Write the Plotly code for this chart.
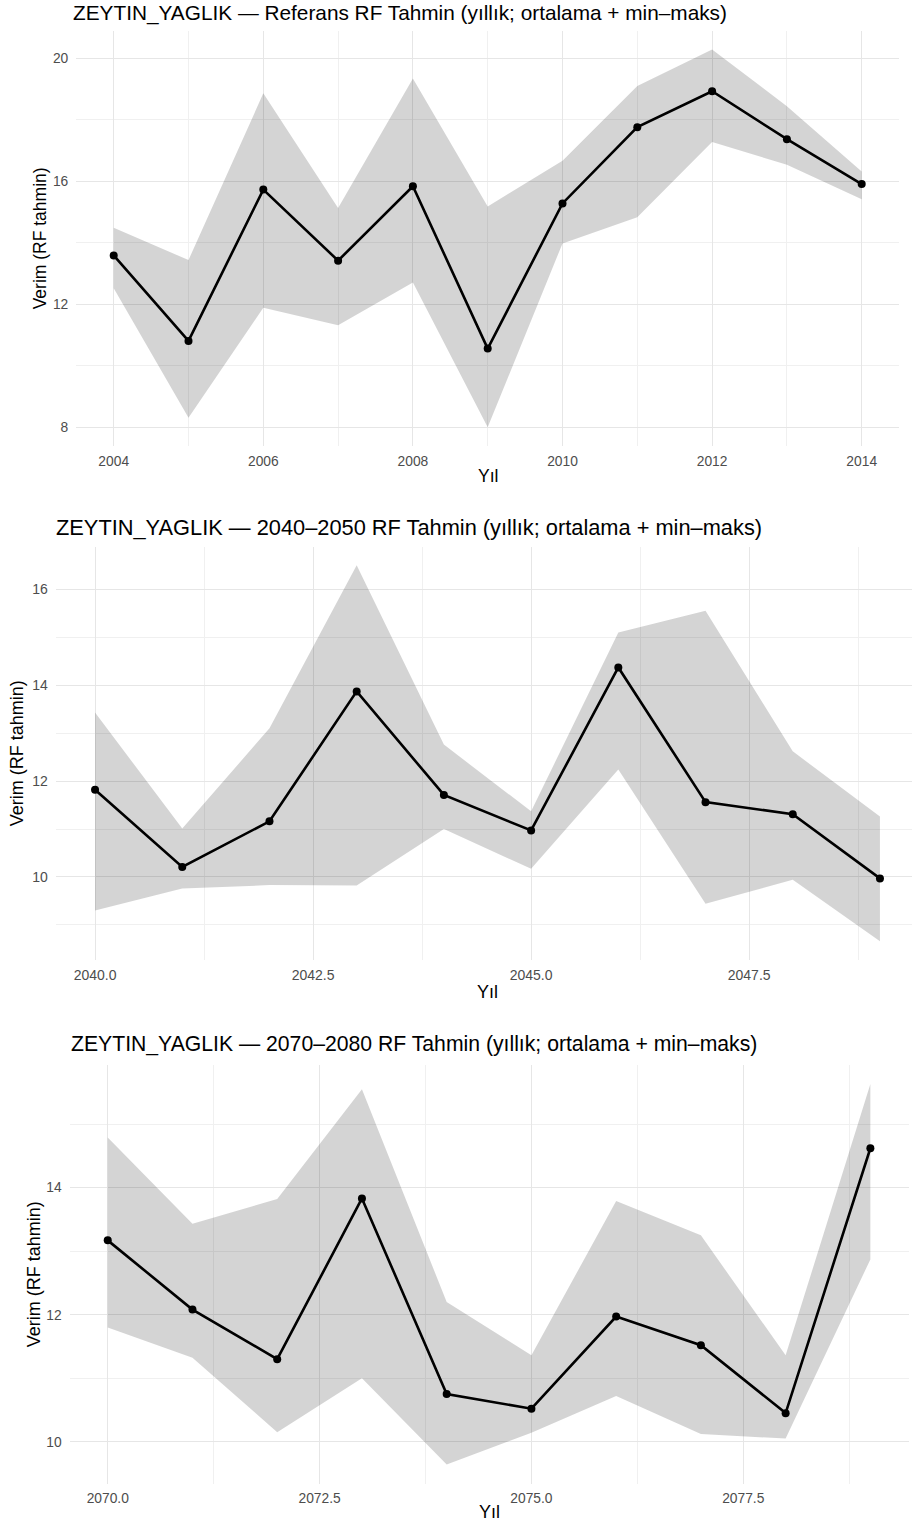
import plotly.graph_objects as go

# ---------------- data ----------------
years_ref = [2004, 2005, 2006, 2007, 2008, 2009, 2010, 2011, 2012, 2013, 2014]
mean_ref = [13.59, 10.81, 15.73, 13.42, 15.84, 10.56, 15.28, 17.76, 18.93, 17.37, 15.91]
max_ref = [14.49, 13.44, 18.86, 15.13, 19.34, 15.18, 16.67, 19.10, 20.29, 18.44, 16.32]
min_ref = [12.52, 8.31, 11.89, 11.32, 12.71, 8.00, 13.98, 14.83, 17.28, 16.54, 15.42]

years_40 = [2040, 2041, 2042, 2043, 2044, 2045, 2046, 2047, 2048, 2049]
mean_40 = [11.82, 10.21, 11.16, 13.87, 11.71, 10.97, 14.37, 11.56, 11.31, 9.97]
max_40 = [13.43, 11.01, 13.10, 16.50, 12.76, 11.37, 15.10, 15.55, 12.62, 11.26]
min_40 = [9.30, 9.76, 9.83, 9.82, 11.00, 10.17, 12.24, 9.44, 9.94, 8.66]

years_70 = [2070, 2071, 2072, 2073, 2074, 2075, 2076, 2077, 2078, 2079]
mean_70 = [13.17, 12.08, 11.30, 13.83, 10.75, 10.52, 11.97, 11.52, 10.45, 14.62]
max_70 = [14.79, 13.43, 13.82, 15.55, 12.20, 11.36, 13.79, 13.25, 11.36, 15.63]
min_70 = [11.80, 11.32, 10.15, 11.00, 9.64, 10.14, 10.72, 10.12, 10.05, 12.87]

titles = [
    "ZEYTIN_YAGLIK — Referans RF Tahmin (yıllık; ortalama + min–maks)",
    "ZEYTIN_YAGLIK — 2040–2050 RF Tahmin (yıllık; ortalama + min–maks)",
    "ZEYTIN_YAGLIK — 2070–2080 RF Tahmin (yıllık; ortalama + min–maks)",
]
x_title = "Yıl"
y_title = "Verim (RF tahmin)"

# ---------------- layout constants (pixels) ----------------
W, H = 912, 1526
FONT = "Liberation Sans, Arial, sans-serif"
BAND = "rgba(0,0,0,0.17)"
GRID = "#e6e6e6"
MINOR = "#f0f0f0"

panels = [
    dict(years=years_ref, mean=mean_ref, lo=min_ref, hi=max_ref,
         px=(76.3, 899.1), py=(30.5, 446.2),
         xt=dict(tick0=2004, dtick=2, minor=1, fmt="d"),
         yt=dict(tick0=8, dtick=4, minor=2),
         title_xy=(71, 13), title_size=20.8, tick_size=13.8,
         xlab_y=476, ylab_x=40, axis_size=17.5),
    dict(years=years_40, mean=mean_40, lo=min_40, hi=max_40,
         px=(55.8, 919.2), py=(546.5, 960.0),
         xt=dict(tick0=2040, dtick=2.5, minor=1.25, fmt=".1f"),
         yt=dict(tick0=10, dtick=2, minor=1),
         title_xy=(54, 527), title_size=21.8, tick_size=14,
         xlab_y=992, ylab_x=17, axis_size=18),
    dict(years=years_70, mean=mean_70, lo=min_70, hi=max_70,
         px=(69.6, 908.5), py=(1065.1, 1483.6),
         xt=dict(tick0=2070, dtick=2.5, minor=1.25, fmt=".1f"),
         yt=dict(tick0=10, dtick=2, minor=1),
         title_xy=(69, 1044), title_size=21.2, tick_size=13.8,
         xlab_y=1512, ylab_x=34, axis_size=18),
]

fig = go.Figure()
annotations = []

for i, p in enumerate(panels, start=1):
    xs = "x" if i == 1 else f"x{i}"
    ys = "y" if i == 1 else f"y{i}"
    xa = "xaxis" if i == 1 else f"xaxis{i}"
    ya = "yaxis" if i == 1 else f"yaxis{i}"

    yrs = p["years"]
    # ribbon (min–max)
    fig.add_trace(go.Scatter(
        x=yrs + yrs[::-1], y=p["hi"] + p["lo"][::-1],
        fill="toself", fillcolor=BAND, line=dict(width=0),
        mode="lines", hoverinfo="skip", showlegend=False,
        xaxis=xs, yaxis=ys))
    # mean line + points
    fig.add_trace(go.Scatter(
        x=yrs, y=p["mean"], mode="lines+markers",
        line=dict(color="black", width=2.6),
        marker=dict(color="black", size=8),
        showlegend=False, xaxis=xs, yaxis=ys))

    # ggplot-like 5% expansion
    x0, x1 = min(yrs), max(yrs)
    xpad = 0.05 * (x1 - x0)
    xr = [x0 - xpad, x1 + xpad]
    ymin, ymax = min(p["lo"]), max(p["hi"])
    ypad = 0.05 * (ymax - ymin)
    yr = [ymin - ypad, ymax + ypad]

    pxl, pxr = p["px"]
    if pxr > W:  # panel clipped on the right
        frac = (W - pxl) / (pxr - pxl)
        xr = [xr[0], xr[0] + (xr[1] - xr[0]) * frac]
        pxr = W

    ptop, pbot = p["py"]
    fig.update_layout(**{
        xa: dict(domain=[pxl / W, pxr / W], range=xr, anchor=ys, automargin=False,
                 tickmode="linear", tick0=p["xt"]["tick0"], dtick=p["xt"]["dtick"],
                 tickformat=p["xt"]["fmt"],
                 showgrid=True, gridcolor=GRID, gridwidth=1.3,
                 minor=dict(tickmode="linear", tick0=p["xt"]["tick0"], dtick=p["xt"]["minor"],
                            showgrid=True, gridcolor=MINOR, gridwidth=0.8),
                 zeroline=False, showline=False, ticks="",
                 tickfont=dict(family=FONT, size=p["tick_size"], color="#4d4d4d"),
                 ticklabelstandoff=5),
        ya: dict(domain=[1 - pbot / H, 1 - ptop / H], range=yr, anchor=xs, automargin=False,
                 tickmode="linear", tick0=p["yt"]["tick0"], dtick=p["yt"]["dtick"],
                 showgrid=True, gridcolor=GRID, gridwidth=1.3,
                 minor=dict(tickmode="linear", tick0=p["yt"]["tick0"], dtick=p["yt"]["minor"],
                            showgrid=True, gridcolor=MINOR, gridwidth=0.8),
                 zeroline=False, showline=False, ticks="",
                 tickfont=dict(family=FONT, size=p["tick_size"], color="#4d4d4d"),
                 ticklabelstandoff=7),
    })

    tx, ty = p["title_xy"]
    annotations.append(dict(
        text=titles[i - 1], x=tx / W, y=1 - ty / H, xref="paper", yref="paper",
        xanchor="left", yanchor="middle", showarrow=False,
        font=dict(family=FONT, size=p["title_size"], color="black")))
    annotations.append(dict(
        text=x_title, x=((p["px"][0] + p["px"][1]) / 2) / W, y=1 - p["xlab_y"] / H,
        xref="paper", yref="paper", xanchor="center", yanchor="middle",
        showarrow=False, font=dict(family=FONT, size=p["axis_size"], color="black")))
    annotations.append(dict(
        text=y_title, x=p["ylab_x"] / W, y=1 - ((ptop + pbot) / 2) / H,
        xref="paper", yref="paper", xanchor="center", yanchor="middle",
        textangle=-90, showarrow=False,
        font=dict(family=FONT, size=p["axis_size"], color="black")))

fig.update_layout(
    width=W, height=H,
    margin=dict(l=0, r=0, t=0, b=0, autoexpand=False),
    paper_bgcolor="white", plot_bgcolor="white",
    showlegend=False,
    annotations=annotations,
    font=dict(family=FONT),
)

fig.write_html(
    "out.html",
    config={"displayModeBar": False},
    post_script="document.body.style.margin='0';document.body.style.overflow='hidden';",
)
